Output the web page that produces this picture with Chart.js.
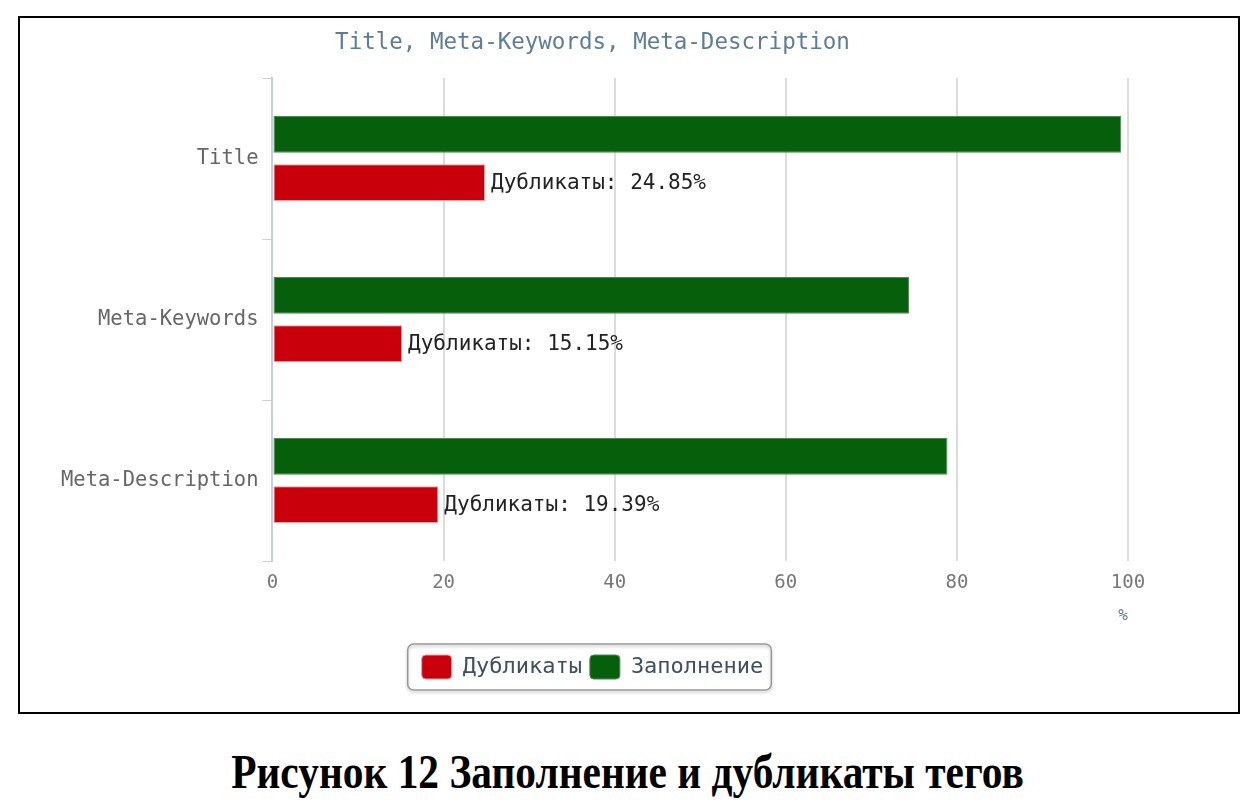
<!DOCTYPE html>
<html lang="ru">
<head>
<meta charset="UTF-8">
<title>Заполнение и дубликаты тегов</title>
<script src="https://cdn.jsdelivr.net/npm/chart.js"></script>
<style>
    body { margin: 0; background: #fff; width: 1255px; height: 810px; position: relative; }
    .frame {
        position: absolute; left: 18px; top: 16px;
        width: 1218px; height: 694px;
        border: 2px solid #000;
    }
    .chart-box {
        position: absolute; left: 21px; top: 19px;
        width: 1140px; height: 688px;
    }
    .caption {
        position: absolute; left: 0; top: 742px; width: 1255px;
        text-align: center;
        font-family: "Liberation Serif", serif; font-weight: bold;
        font-size: 49px; line-height: 60px; color: #000;
        transform: scaleX(0.845);
    }
</style>
</head>
<body>
<div class="frame"></div>
<div class="chart-box"><canvas id="tagsChart"></canvas></div>
<div class="caption">Рисунок 12 Заполнение и дубликаты тегов</div>

<script>
    // данные
    const categories = ['Title', 'Meta-Keywords', 'Meta-Description'];
    const filled = [99.2, 74.4, 78.9];       // Заполнение
    const duplicates = [24.85, 15.15, 19.39]; // Дубликаты
    const xTicks = [0, 20, 40, 60, 80, 100];

    const mono = '"DejaVu Sans Mono", monospace';

    // подписи на красных столбцах
    const dupLabels = {
        id: 'dupLabels',
        afterDatasetsDraw(chart) {
            const ctx = chart.ctx;
            const meta = chart.getDatasetMeta(1);
            ctx.save();
            ctx.font = '21px ' + mono;
            ctx.fillStyle = '#222';
            ctx.textAlign = 'left';
            ctx.textBaseline = 'middle';
            meta.data.forEach((bar, i) => {
                ctx.fillText('Дубликаты: ' + duplicates[i].toFixed(2) + '%', bar.x + 6, bar.y + 1);
            });
            ctx.restore();
        }
    };

    // рамка вокруг легенды
    const legendBorder = {
        id: 'legendBorder',
        afterDraw(chart) {
            const lg = chart.legend;
            if (!lg || !lg.legendHitBoxes.length) return;
            const boxes = lg.legendHitBoxes;
            const left = boxes[0].left - 14;
            const right = boxes[boxes.length - 1].left + boxes[boxes.length - 1].width + 8;
            const top = boxes[0].top - 11;
            const h = boxes[0].height + 22;
            const ctx = chart.ctx;
            ctx.save();
            ctx.shadowColor = 'rgba(0,0,0,0.25)';
            ctx.shadowOffsetY = 2;
            ctx.shadowBlur = 3;
            ctx.strokeStyle = '#999';
            ctx.lineWidth = 1.5;
            ctx.beginPath();
            ctx.roundRect(left, top, right - left, h, 6);
            ctx.stroke();
            ctx.restore();
        }
    };

    new Chart(document.getElementById('tagsChart'), {
        type: 'bar',
        data: {
            labels: categories,
            datasets: [{
                label: 'Заполнение',
                data: filled,
                backgroundColor: '#055f0b',
                borderColor: '#4f8a53',
                borderWidth: 1,
                borderSkipped: false,
                categoryPercentage: 0.6,
                barPercentage: 0.76
            }, {
                label: 'Дубликаты',
                data: duplicates,
                backgroundColor: '#c9000c',
                borderColor: '#e8a0a4',
                borderWidth: 1,
                borderSkipped: false,
                categoryPercentage: 0.6,
                barPercentage: 0.76
            }]
        },
        options: {
            indexAxis: 'y',
            responsive: true,
            maintainAspectRatio: false,
            animation: false,
            layout: { padding: { left: 36, right: 33, top: 2, bottom: 18 } },
            plugins: {
                title: {
                    display: true,
                    text: 'Title, Meta-Keywords, Meta-Description',
                    color: '#5d7c98',
                    font: { family: mono, size: 22.5, weight: 'normal' },
                    padding: { top: 9, bottom: 21 }
                },
                legend: {
                    position: 'bottom',
                    reverse: true,
                    labels: {
                        color: '#3c4f63',
                        font: { family: mono, size: 22 },
                        boxWidth: 30,
                        boxHeight: 24,
                        padding: 8,
                        useBorderRadius: true,
                        borderRadius: 4
                    }
                },
                tooltip: { enabled: false }
            },
            scales: {
                x: {
                    min: 0,
                    max: 100,
                    afterBuildTicks(axis) {
                        axis.ticks = xTicks.map(v => ({ value: v }));
                    },
                    grid: { color: '#dcdcdc', lineWidth: 2, drawTicks: false },
                    border: { display: false },
                    ticks: {
                        color: '#777',
                        font: { family: mono, size: 19 },
                        padding: 11
                    },
                    title: {
                        display: true,
                        text: '%',
                        align: 'end',
                        color: '#5d7c98',
                        font: { family: mono, size: 16 },
                        padding: { top: 0, bottom: 22 }
                    }
                },
                y: {
                    grid: {
                        display: true,
                        offset: true,
                        drawOnChartArea: false,
                        color: '#c8d0da',
                        tickLength: 10,
                        lineWidth: 1
                    },
                    border: { display: true, color: '#c5d0dc', width: 2 },
                    ticks: {
                        color: '#666',
                        font: { family: mono, size: 20.5 },
                        padding: 4
                    }
                }
            }
        },
        plugins: [dupLabels, legendBorder]
    });
</script>
</body>
</html>
